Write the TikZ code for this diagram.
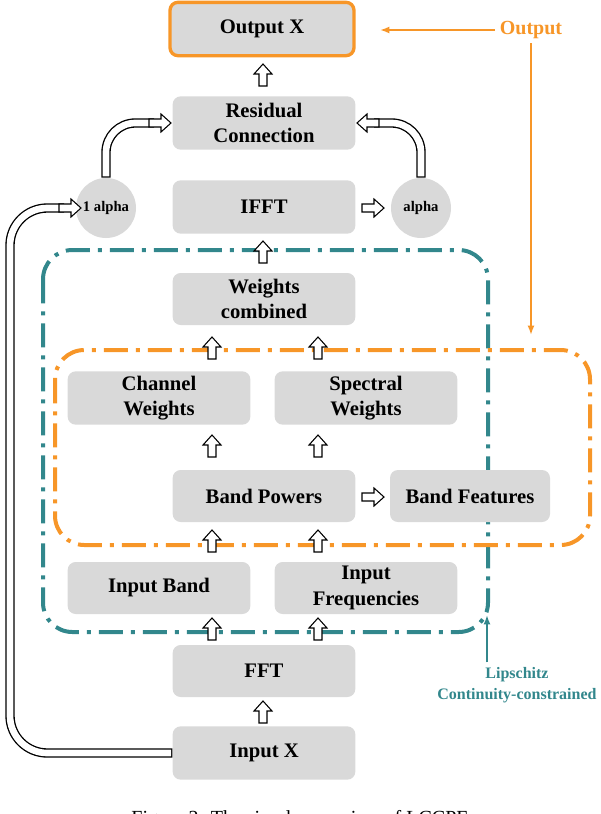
\documentclass[tikz,border=0pt]{standalone}
\usepackage{fontspec}
\setmainfont{Liberation Serif}
\usetikzlibrary{arrows.meta}
\begin{document}
\begin{tikzpicture}[x=0.75pt,y=-0.75pt,
 box/.style={fill=black!15,rounded corners=6pt,inner sep=0pt,font=\bfseries\fontsize{15.5}{19}\selectfont,align=center},
 circ/.style={circle,fill=black!15,minimum size=45pt,inner sep=0pt,font=\bfseries\fontsize{11}{13}\selectfont},
 hollow/.style={line width=7pt,draw=black},
 hollowin/.style={line width=5pt,draw=white},
 up/.pic={\draw[fill=white,line width=0.8pt,line join=miter] (0,-11)--(9,-1)--(4,-1)--(4,11)--(-4,11)--(-4,-1)--(-9,-1)--cycle;},
 right/.pic={\draw[fill=white,line width=0.8pt,line join=miter] (11,0)--(1,-9)--(1,-4)--(-11,-4)--(-11,4)--(1,4)--(1,9)--cycle;},
 left/.pic={\draw[fill=white,line width=0.8pt,line join=miter] (-11,0)--(-1,-9)--(-1,-4)--(11,-4)--(11,4)--(-1,4)--(-1,9)--cycle;},
]
\useasboundingbox (0,0) rectangle (600,814);
\definecolor{org}{RGB}{247,150,40}
\definecolor{tea}{RGB}{50,135,140}
% regions
\draw[tea,line width=3pt,dash pattern=on 18pt off 6pt on 3pt off 6pt,rounded corners=22pt] (43,250) rectangle (488,632);
\draw[org,line width=3pt,dash pattern=on 18pt off 6pt on 3pt off 6pt,rounded corners=22pt] (55,350) rectangle (590,545);
% boxes
\node[box,draw=org,line width=2.5pt,minimum width=138pt,minimum height=40pt] (out) at (262,29) {Output X};
\node[box,minimum width=137pt,minimum height=40pt] (res) at (264,123) {Residual\\Connection};
\node[box,minimum width=137pt,minimum height=40pt] (ifft) at (264,207) {IFFT};
\node[circ] (a1) at (106,208) {1 alpha};
\node[circ] (a2) at (421,208) {alpha};
\node[box,minimum width=137pt,minimum height=39pt] (wc) at (264,299) {Weights\\combined};
\node[box,minimum width=137pt,minimum height=40pt] (cw) at (159,398) {Channel\\Weights};
\node[box,minimum width=137pt,minimum height=40pt] (sw) at (366,398) {Spectral\\Weights};
\node[box,minimum width=137pt,minimum height=39pt] (bp) at (264,496) {Band Powers};
\node[box,minimum width=120pt,minimum height=39pt] (bf) at (470,496) {Band Features};
\node[box,minimum width=137pt,minimum height=39pt] (ib) at (159,588) {Input Band};
\node[box,minimum width=137pt,minimum height=39pt] (if) at (366,588) {Input\\Frequencies};
\node[box,minimum width=137pt,minimum height=39pt] (fft) at (264,671) {FFT};
\node[box,minimum width=137pt,minimum height=40pt] (inx) at (264,753) {Input X};
% labels
\node[org,font=\bfseries\fontsize{15}{18}\selectfont] (olab) at (531,30) {Output};
\node[tea,font=\bfseries\fontsize{12}{16}\selectfont,align=center] (llab) at (517,685) {Lipschitz\\Continuity-constrained};
\coordinate (oc) at (531,335);
\coordinate (lc) at (487,615);
\coordinate (oe) at (380,30);
\draw[org,line width=2pt,-{Latex[length=7pt]}] (olab.west) -- (oe);
\draw[org,line width=2pt,-{Latex[length=7pt]}] (olab.south) -- (oc);
\draw[tea,line width=2pt,-{Latex[length=7pt]}] (llab.north -| lc) -- (lc);
% small arrows
\foreach \p in {(263,75),(263,252),(212,348),(318,348),(212,446),(318,446),(212,541),(318,541),(212,629),(318,629),(263,712)} \pic at \p {up};
\pic at (373,208) {right};
\pic at (373,497) {right};
% curved arrows
\draw[hollow,rounded corners=28pt] (inx.west) -- (10,753) -- (10,208) -- (64,208);
\draw[hollowin,rounded corners=28pt] ([xshift=-1pt]inx.west) -- (10,753) -- (10,208) -- (65,208);
\pic at (70,208) {right};
\draw[hollow,rounded corners=22pt] (a1.north) -- (106,123) -- (154,123);
\draw[hollowin,rounded corners=22pt] ([yshift=1pt]a1.north) -- (106,123) -- (155,123);
\pic at (160,123) {right};
\draw[hollow,rounded corners=22pt] (a2.north) -- (421,123) -- (374,123);
\draw[hollowin,rounded corners=22pt] ([yshift=1pt]a2.north) -- (421,123) -- (373,123);
\pic at (368,123) {left};
% caption
\node[font=\fontsize{15}{18}\selectfont] (cap) at (300,820) {Figure 2: The simple overview of LCCPE};
\end{tikzpicture}
\end{document}
